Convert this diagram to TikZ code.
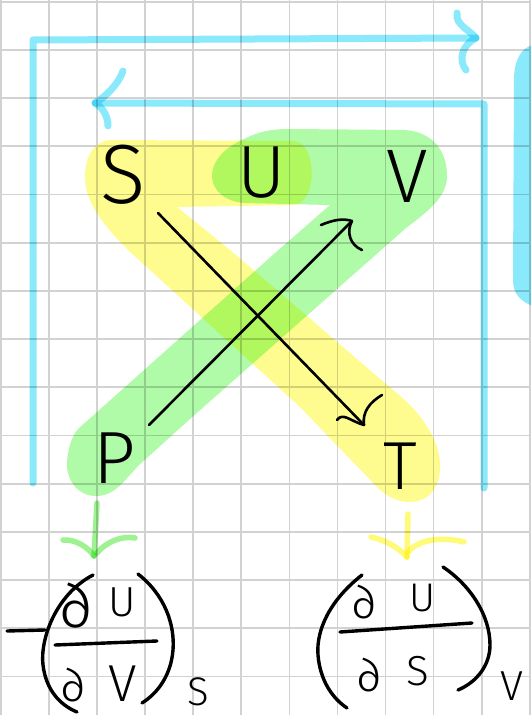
\documentclass[tikz,border=0pt]{standalone}
\usepackage{fontspec}
\IfFontExistsTF{FiraSans-Light.otf}
  {\newfontfamily\hand{FiraSans-Light.otf}}
  {\IfFontExistsTF{Fira Sans Light}
    {\newfontfamily\hand{Fira Sans Light}}
    {\newfontfamily\hand{lmmonolt10-regular.otf}[Scale=1.13]}}
\newfontfamily\mathfnt{latinmodern-math.otf}
\newcommand\deesym{\iffontchar\font"2202 ∂\else{\mathfnt ∂}\fi}
\definecolor{gridc}{RGB}{210,210,210}
\definecolor{bluec}{RGB}{138,233,251}
\definecolor{yelc}{RGB}{255,252,143}
\definecolor{grnc}{RGB}{176,251,168}
\definecolor{grnarrow}{RGB}{158,242,146}
\definecolor{yelarrow}{RGB}{255,250,120}
\begin{document}
\begin{tikzpicture}[x=1pt,y=-1pt,
  gridline/.style={draw=gridc,line width=1.8pt},
  bluepen/.style={draw=bluec,line width=7pt,line cap=round,line join=round,blend mode=multiply},
  hl/.style={blend mode=multiply},
  ink/.style={draw=black,line width=2.6pt,line cap=round,line join=round},
  pen/.style={draw=black,line width=3.4pt,line cap=round,line join=round},
  letter/.style={inner sep=0pt,text=black,font={\hand\fontsize{#1}{#1}\selectfont}},
  dee/.style={inner sep=0pt,text=black,font={\hand\fontsize{#1}{#1}\selectfont}},
  hlarrow/.style={line width=5.5pt,line cap=round,line join=round,blend mode=multiply}]
\path[use as bounding box] (0,0) rectangle (531,715);
\clip (0,0) rectangle (531,715);
\fill[white] (0,0) rectangle (531,715);
% grid
\foreach \k in {0,...,11} \draw[gridline] ({1.1+48.05*\k},0) -- ({1.1+48.05*\k},715);
\foreach \k in {0,...,14} \draw[gridline] (0,{1.7+48.2*\k}) -- (531,{1.7+48.2*\k});
% highlights
\fill[yelc,hl] (110,140) -- (293,141) .. controls (318,142) and (318,204) .. (293,205) -- (177,207) -- (230,250) -- (393,390)
  .. controls (425,415) and (442,445) .. (440,470) .. controls (438,495) and (422,503) .. (407,502)
  .. controls (395,501) and (385,495) .. (377,487) -- (300,407) -- (128,250)
  .. controls (100,222) and (85,200) .. (85,177) .. controls (85,155) and (95,141) .. (110,140) -- cycle;
\fill[grnc,hl] (244,139) .. controls (262,130) and (275,129) .. (290,129) -- (405,130)
  .. controls (432,132) and (447,150) .. (447,176) .. controls (447,196) and (430,210) .. (406,228)
  -- (190,419) -- (138,466) .. controls (125,480) and (115,495) .. (98,496)
  .. controls (78,497) and (66,480) .. (67,462) .. controls (68,448) and (72,436) .. (78,429)
  -- (274,254) -- (330,205) -- (245,203) .. controls (225,202) and (212,190) .. (212,176)
  .. controls (212,160) and (226,147) .. (244,139) -- cycle;
% blue frame lines
\draw[bluepen] (33,483) -- (33,40) -- (476,38);
\draw[bluepen] (457,13) .. controls (455,25) and (470,30) .. (476,38) .. controls (462,45) and (458,60) .. (466,70);
\draw[bluepen] (484,488) -- (484,104) -- (95,103);
\draw[bluepen] (123,71) .. controls (118,85) and (105,97) .. (95,103) .. controls (104,108) and (108,118) .. (108,126);
\fill[bluec,hl] (533,45) .. controls (520,48) and (514,62) .. (514,80) -- (513,280) .. controls (513,295) and (522,302) .. (533,306) -- cycle;
% letters
\node[letter=84] (S) at (123,175) {S};
\node[letter=74] (U) at (262,173) {U};
\node[letter=76] (V) at (407,176) {V};
\node[letter=74] (P) at (115,458) {P};
\node[letter=68] (T) at (400,466) {T};
% black arrows
\coordinate (s0) at (158,213);
\coordinate (t0) at (364,425);
\coordinate (p0) at (149,425);
\coordinate (v0) at (352,221);
\draw[ink] (s0) -- (t0);
\draw[ink] (382,395) .. controls (370,402) and (362,412) .. (t0);
\draw[ink] (337,420) .. controls (343,412) and (350,421) .. (t0);
\draw[ink] (p0) -- (v0);
\draw[ink] (321,225) .. controls (333,220) and (343,218) .. (v0);
\draw[ink] (v0) .. controls (346,232) and (350,245) .. (362,250);
% highlight arrows
\coordinate (ga0) at (97,503);
\coordinate (ga1) at (94,556);
\draw[hlarrow,grnarrow] (ga0) -- (ga1);
\draw[hlarrow,grnarrow] (63,540) .. controls (75,539) and (88,547) .. (ga1);
\draw[hlarrow,grnarrow] (135,538) .. controls (120,535) and (104,544) .. (97,553);
\coordinate (ya0) at (408,514);
\coordinate (ya1) at (407,557);
\draw[hlarrow,yelarrow] (ya0) -- (ya1);
\draw[hlarrow,yelarrow] (371,537) .. controls (385,540) and (398,547) .. (ya1);
\draw[hlarrow,yelarrow] (464,542) .. controls (440,536) and (418,540) .. (408,552);
% left formula
\draw[pen] (7,631) -- (45,630);
\draw[pen] (93,575) .. controls (55,595) and (40,640) .. (43,665) .. controls (46,690) and (60,705) .. (77,712);
\draw[pen] (138,574) .. controls (165,595) and (175,625) .. (173,650) .. controls (171,675) and (158,693) .. (142,703);
\draw[pen] (55,645) -- (157,641);
\node[dee=64] (d1) at (77,606) {\deesym};
\node[letter=42] (u1) at (122,602) {U};
\node[dee=48] (d2) at (74,685) {\deesym};
\node[letter=52] (v1) at (123,684) {V};
\node[letter=40] (s1) at (198,692) {S};
% right formula
\draw[pen] (362,575) .. controls (330,600) and (316,630) .. (318,655) .. controls (320,680) and (332,698) .. (347,708);
\draw[pen] (443,567) .. controls (470,585) and (490,615) .. (490,645) .. controls (490,665) and (477,682) .. (458,690);
\draw[pen] (340,632) -- (472,623);
\node[dee=48] (d3) at (365,602) {\deesym};
\node[letter=40] (u2) at (423,598) {U};
\node[dee=48] (d4) at (370,675) {\deesym};
\node[letter=42] (s2) at (418,671) {S};
\node[letter=42] (v2) at (512,686) {V};
\end{tikzpicture}
\end{document}
